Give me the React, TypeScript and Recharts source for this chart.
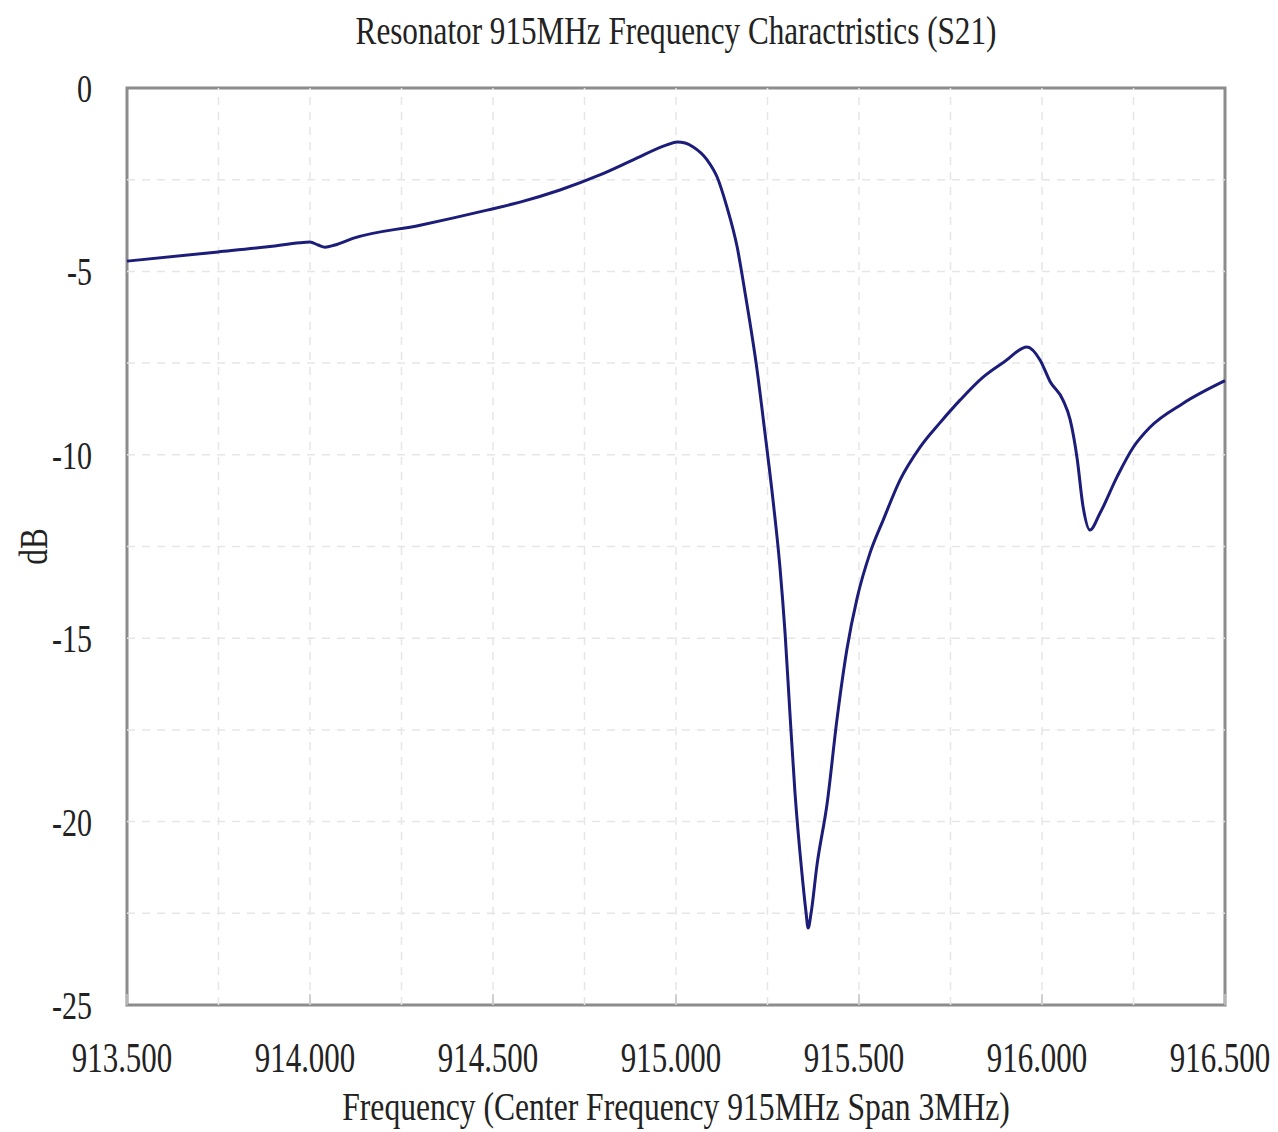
import React from "react";
import { LineChart, Line, XAxis, YAxis, ReferenceLine, ReferenceArea } from "recharts";

// S21 sweep (MHz, dB)
const freqMHz = [
  913.5, 913.749, 913.891, 913.973, 914.0, 914.022, 914.041, 914.068, 914.117, 914.301,
  914.484, 914.574, 914.683, 914.792, 914.883, 914.975, 915.003, 915.025, 915.046, 915.085,
  915.112, 915.139, 915.167, 915.189, 915.221, 915.243, 915.265, 915.284, 915.298, 915.311,
  915.325, 915.344, 915.355, 915.361, 915.369, 915.385, 915.413, 915.44, 915.467, 915.495,
  915.53, 915.566, 915.612, 915.667, 915.721, 915.776, 915.839, 915.899, 915.959, 915.995,
  916.022, 916.057, 916.077, 916.096, 916.112, 916.131, 916.158, 916.205, 916.249, 916.295,
  916.385, 916.5,
];
const s21dB = [
  -4.72, -4.47, -4.32, -4.22, -4.2, -4.28, -4.34, -4.28, -4.1, -3.74,
  -3.33, -3.11, -2.78, -2.37, -1.96, -1.55, -1.47, -1.5, -1.6, -1.96,
  -2.42, -3.24, -4.33, -5.6, -7.65, -9.4, -11.23, -13.06, -14.86, -17.0,
  -19.2, -21.4, -22.45, -22.9, -22.5, -21.2, -19.5, -17.2, -15.3, -13.9,
  -12.68, -11.78, -10.69, -9.79, -9.13, -8.51, -7.88, -7.45, -7.06, -7.42,
  -8.0, -8.5, -9.05, -10.1, -11.4, -12.05, -11.6, -10.6, -9.8, -9.25,
  -8.6, -7.98,
];

const xTicks = [913.5, 914, 914.5, 915, 915.5, 916, 916.5];
const yTicks = [0, -5, -10, -15, -20, -25];
const xGrid = [913.75, 914, 914.25, 914.5, 914.75, 915, 915.25, 915.5, 915.75, 916, 916.25];
const yGrid = [-2.5, -5, -7.5, -10, -12.5, -15, -17.5, -20, -22.5];

const data = freqMHz.map((f, i) => ({ f, db: s21dB[i] }));

const FONT = '"Liberation Serif", "Times New Roman", serif';
const INK = "#222";
const GRID = "#e6e6e6";

function XTick({ x, y, payload }: any) {
  return (
    <text
      transform={`translate(${x - 5},${y + 67}) scale(0.72,1)`}
      textAnchor="middle"
      fontFamily={FONT}
      fontSize={43}
      fill={INK}
    >
      {Number(payload.value).toFixed(3)}
    </text>
  );
}

function YTick({ x, y, payload }: any) {
  return (
    <text
      transform={`translate(${x - 35},${y + 14}) scale(0.75,1)`}
      textAnchor="end"
      fontFamily={FONT}
      fontSize={40}
      fill={INK}
    >
      {payload.value}
    </text>
  );
}

export default function App() {
  return (
    <div style={{ position: "absolute", left: 0, top: 0, width: 1278, height: 1132, background: "#fff" }}>
      <LineChart width={1278} height={1132} data={data} margin={{ top: 88, right: 53, bottom: 0, left: 0 }}>
        <XAxis
          dataKey="f"
          type="number"
          domain={[913.5, 916.5]}
          ticks={xTicks}
          tick={<XTick />}
          tickSize={0}
          tickMargin={0}
          axisLine={false}
          tickLine={false}
          height={127}
          interval={0}
          label={{
            content: ({ viewBox }: any) => (
              <text
                transform={`translate(${viewBox.x + viewBox.width / 2},${viewBox.y + 115}) scale(0.8,1)`}
                textAnchor="middle"
                fontFamily={FONT}
                fontSize={39.5}
                fill={INK}
              >
                Frequency (Center Frequency 915MHz Span 3MHz)
              </text>
            ),
          }}
        />
        <YAxis
          type="number"
          domain={[-25, 0]}
          ticks={yTicks}
          tick={<YTick />}
          tickSize={0}
          tickMargin={0}
          axisLine={false}
          tickLine={false}
          width={127}
          interval={0}
          label={{
            content: ({ viewBox }: any) => (
              <text
                transform={`translate(47,${viewBox.y + viewBox.height / 2}) rotate(-90) scale(0.78,1)`}
                textAnchor="middle"
                fontFamily={FONT}
                fontSize={40}
                fill={INK}
              >
                dB
              </text>
            ),
          }}
        />
        {xGrid.map((v) => (
          <ReferenceLine key={`gx${v}`} x={v} stroke={GRID} strokeWidth={1.5} strokeDasharray="8 7" />
        ))}
        {yGrid.map((v) => (
          <ReferenceLine key={`gy${v}`} y={v} stroke={GRID} strokeWidth={1.5} strokeDasharray="8 7" />
        ))}
        {xTicks.map((v) => (
          <ReferenceLine
            key={`tk${v}`}
            segment={[
              { x: v, y: -25 },
              { x: v, y: -24.7 },
            ]}
            stroke="#c4c4c4"
            strokeWidth={1.5}
          />
        ))}
        <ReferenceArea
          x1={913.5}
          x2={916.5}
          y1={-25}
          y2={0}
          fill="none"
          fillOpacity={0}
          stroke="#8c8c8c"
          strokeWidth={3}
        />
        <Line
          type="monotone"
          dataKey="db"
          stroke="#1c1c7a"
          strokeWidth={3}
          dot={false}
          isAnimationActive={false}
        />
      </LineChart>
      <svg width={1278} height={80} style={{ position: "absolute", left: 0, top: 0, pointerEvents: "none" }}>
        <text
          transform="translate(676,44) scale(0.8,1)"
          textAnchor="middle"
          fontFamily={FONT}
          fontSize={39}
          fill={INK}
        >
          Resonator 915MHz Frequency Charactristics (S21)
        </text>
      </svg>
    </div>
  );
}
